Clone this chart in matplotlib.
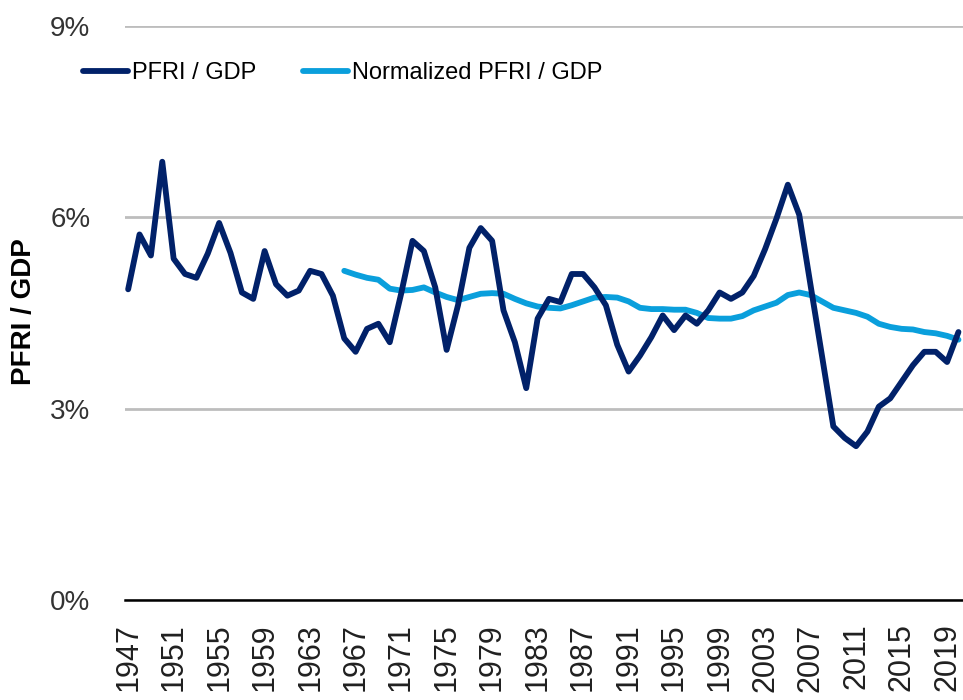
import matplotlib
matplotlib.use("Agg")
import matplotlib.pyplot as plt

# PFRI / GDP, annual, in percent
years = list(range(1947, 2021))
pfri = [4.87, 5.73, 5.40, 6.87, 5.35, 5.11, 5.05, 5.43, 5.91, 5.44,
        4.82, 4.72, 5.47, 4.95, 4.77, 4.85, 5.16, 5.11, 4.77, 4.10,
        3.89, 4.25, 4.33, 4.04, 4.80, 5.63, 5.47, 4.90, 3.92, 4.62,
        5.52, 5.83, 5.63, 4.54, 4.04, 3.32, 4.41, 4.72, 4.67, 5.11,
        5.11, 4.90, 4.62, 4.00, 3.58, 3.83, 4.12, 4.46, 4.23, 4.46,
        4.33, 4.54, 4.82, 4.72, 4.82, 5.08, 5.50, 5.98, 6.51, 6.04,
        4.93, 3.83, 2.72, 2.54, 2.41, 2.64, 3.03, 3.16, 3.42, 3.68,
        3.89, 3.89, 3.73, 4.20]

norm_years = list(range(1966, 2021))
norm_pfri = [5.16, 5.10, 5.05, 5.02, 4.88, 4.85, 4.86, 4.90, 4.82, 4.75,
             4.70, 4.75, 4.80, 4.81, 4.80, 4.72, 4.65, 4.60, 4.58, 4.57,
             4.62, 4.68, 4.74, 4.75, 4.74, 4.68, 4.58, 4.56, 4.56, 4.55,
             4.55, 4.50, 4.42, 4.41, 4.41, 4.45, 4.54, 4.60, 4.66, 4.78,
             4.82, 4.78, 4.68, 4.58, 4.54, 4.50, 4.44, 4.33, 4.28, 4.25,
             4.24, 4.20, 4.18, 4.14, 4.08]

tick_years = list(range(1947, 2021, 4))
y_ticks = [0, 3, 6, 9]

fonts = ["Liberation Sans", "DejaVu Sans"]

fig = plt.figure(figsize=(9.63, 7.0), dpi=100)
ax = fig.add_axes([0.13, 0.143, 0.87, 0.82])

ax.plot(years, pfri, color="#012169", lw=4.2, solid_capstyle="round",
        solid_joinstyle="round", label="PFRI / GDP", zorder=3)
ax.plot(norm_years, norm_pfri, color="#0A9FDC", lw=4.2, solid_capstyle="round",
        solid_joinstyle="round", label="Normalized PFRI / GDP", zorder=2)

ax.set_ylim(0, 9)
ax.set_xlim(1946.74, 2020.4)
ax.set_yticks(y_ticks)
ax.set_yticklabels([f"{v}%" for v in y_ticks], family=fonts, fontsize=20,
                   color="#333333")
ax.set_xticks(tick_years)
ax.set_xticklabels([str(y) for y in tick_years], rotation=90, family=fonts,
                   fontsize=22, color="#202020")
ax.tick_params(axis="y", length=0, pad=25)
ax.tick_params(axis="x", length=0, pad=17)

ax.grid(axis="y", color="#BDBDBD", lw=2.0)
ax.set_axisbelow(True)
for side in ["left", "right", "top"]:
    ax.spines[side].set_visible(False)
ax.spines["bottom"].set_linewidth(1.8)
ax.spines["bottom"].set_color("black")
ax.spines["bottom"].set_zorder(4)

ax.set_ylabel("PFRI / GDP", family=fonts, fontsize=20, fontweight="bold")
ax.yaxis.set_label_coords(-0.105, 0.503)

ax.legend(loc="center left", bbox_to_anchor=(-0.05, 0.918), ncol=2,
          frameon=False, borderpad=0, borderaxespad=0,
          prop={"family": fonts, "size": 17},
          handlelength=1.9, handletextpad=0.15, columnspacing=2.0)

fig.savefig("out.png", dpi=100)
